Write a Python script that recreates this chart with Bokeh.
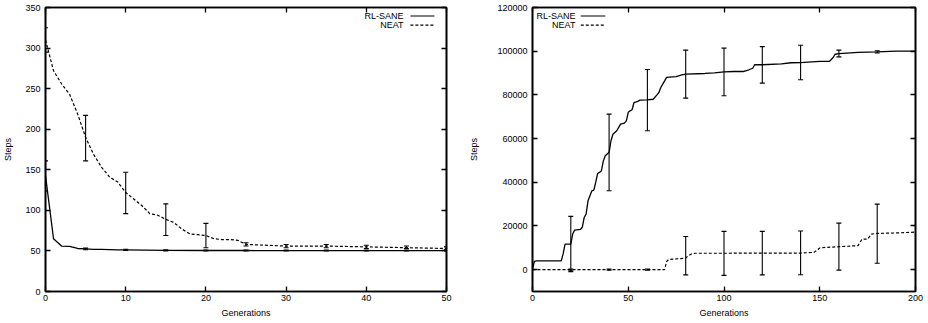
from bokeh.plotting import figure
from bokeh.layouts import row
from bokeh.models import (LinearAxis, FixedTicker, Range1d, Whisker, TeeHead,
                          ColumnDataSource, NumeralTickFormatter)
from bokeh.core.properties import value
from bokeh.embed import file_html
from bokeh.resources import INLINE

FONT = "Liberation Sans"

# ---------------- Left chart data ----------------
l_x_range = (0, 50)
l_y_range = (0, 350)
l_x_ticks = [0, 10, 20, 30, 40, 50]
l_y_ticks = [0, 50, 100, 150, 200, 250, 300, 350]

l_neat_gen = [0, 1, 2, 3, 4, 5, 6, 7, 8, 9, 10, 11, 12, 13, 14, 15, 16, 17, 18, 19,
              20, 21, 22, 23, 24, 25, 30, 35, 40, 45, 50]
l_neat_steps = [310, 272, 256, 243, 219, 190, 169, 153, 141, 135, 122, 114, 106, 96, 94,
                89, 85, 77, 71, 70, 69, 65, 64, 64, 63, 58, 56, 56, 55, 54, 53]
l_neat_err_gen = [0, 5, 10, 15, 20, 25, 30, 35, 40, 45, 50]
l_neat_err_low = [295, 161, 96, 69, 54, 56, 54, 54, 53, 53, 51]
l_neat_err_high = [325, 217, 147, 108, 84, 60, 58, 58, 57, 56, 55]

l_rl_gen = [0, 1, 2, 3, 4, 5, 6, 7, 8, 9, 10, 15, 20, 25, 30, 35, 40, 45, 50]
l_rl_steps = [143, 65, 56, 55.5, 53, 52.5, 52, 51.8, 51.6, 51.4, 51.3, 50.7, 50.5, 50.5,
              50.4, 50.4, 50.3, 50.3, 50.3]
l_rl_err_gen = [0, 5, 10, 15, 20, 25, 30, 35, 40, 45, 50]
l_rl_err_low = [124, 51.5, 50.5, 50, 50, 50, 50, 50, 50, 50, 50]
l_rl_err_high = [161, 53.5, 52, 51.3, 51, 51, 51, 51, 51, 51, 51]

# ---------------- Right chart data ----------------
r_x_range = (0, 200)
r_y_range = (-10000, 120000)
r_x_ticks = [0, 50, 100, 150, 200]
r_y_ticks = [0, 20000, 40000, 60000, 80000, 100000, 120000]

r_rl_gen = [0, 1, 2, 15, 16, 17, 20, 21, 22, 25, 26, 27, 28, 29, 30, 31, 32, 33, 34, 35,
            36, 37, 38, 40, 41, 42, 43, 44, 45, 46, 48, 49, 50, 51, 52, 53, 55, 56, 60,
            63, 65, 66, 67, 68, 69, 70, 75, 78, 80, 90, 95, 100, 105, 110, 113, 115, 116,
            120, 130, 135, 140, 150, 155, 157, 158, 160, 170, 180, 190, 200]
r_rl_steps = [300, 3800, 4000, 4000, 7200, 11700, 11700, 16300, 18100, 18400, 19400,
              23900, 25500, 31500, 33800, 36100, 36400, 39900, 44000, 44500, 45300, 49800,
              52100, 53700, 59000, 62000, 62800, 63600, 65100, 66600, 67100, 68100, 72000,
              72700, 73200, 76500, 77000, 77600, 77700, 78000, 80000, 81100, 83400, 84900,
              86400, 88000, 88400, 89200, 89500, 89800, 90100, 90500, 90700, 90700, 91500,
              92200, 93800, 93800, 94200, 94700, 94800, 95300, 95300, 97100, 98600, 98900,
              99500, 99700, 100000, 100000]
r_rl_err_gen = [20, 40, 60, 80, 100, 120, 140, 160, 180]
r_rl_err_low = [-900, 36100, 63600, 78500, 79600, 85400, 86900, 97400, 99200]
r_rl_err_high = [24400, 71200, 91600, 100500, 101400, 102100, 102700, 100500, 100200]

r_neat_gen = [0, 20, 40, 60, 69, 70, 71, 75, 80, 81, 83, 85, 100, 120, 140, 147, 150,
              153, 160, 170, 172, 175, 177, 180, 190, 200]
r_neat_steps = [0, 0, 0, 0, 0, 3700, 4600, 4900, 5300, 6100, 7200, 7500, 7500, 7600,
                7600, 7900, 9900, 10200, 10500, 11000, 13900, 14000, 16300, 16600, 16800,
                17200]
r_neat_err_gen = [20, 40, 60, 80, 100, 120, 140, 160, 180]
r_neat_err_low = [-300, -300, -300, -2400, -2600, -2400, -2300, -200, 2900]
r_neat_err_high = [300, 300, 300, 15200, 17500, 17500, 17700, 21300, 30000]

series_labels = ["RL-SANE", "NEAT"]
x_label = "Generations"
y_label = "Steps"

FRAME_W = 1.6


def make_fig(xr, yr, xt, yt, bl, br, ylab_standoff):
    p = figure(width=464, height=320, x_range=Range1d(*xr), y_range=Range1d(*yr),
               output_backend="svg", toolbar_location=None,
               min_border_left=bl, min_border_right=br, min_border_top=7,
               min_border_bottom=29)
    p.grid.visible = False
    p.outline_line_color = "black"
    p.outline_line_width = FRAME_W
    p.background_fill_color = "white"
    p.border_fill_color = "white"
    p.xaxis.ticker = FixedTicker(ticks=xt)
    p.yaxis.ticker = FixedTicker(ticks=yt)
    p.xaxis.axis_label = x_label
    p.yaxis.axis_label = y_label
    for ax in (p.xaxis[0], p.yaxis[0]):
        ax.major_tick_in = 5
        ax.major_tick_out = 0
        ax.minor_tick_in = 0
        ax.minor_tick_out = 0
        ax.axis_line_color = "black"
        ax.axis_line_width = FRAME_W
        ax.major_tick_line_color = "black"
        ax.major_tick_line_width = 1.3
        ax.major_label_text_font = FONT
        ax.major_label_text_font_size = "9px"
        ax.major_label_text_color = "black"
        ax.axis_label_text_font = FONT
        ax.axis_label_text_font_size = "9px"
        ax.axis_label_text_font_style = "normal"
        ax.axis_label_text_color = "black"
    p.xaxis.major_label_standoff = 3
    p.xaxis.axis_label_standoff = 4
    p.yaxis.major_label_standoff = 5
    p.yaxis.axis_label_standoff = ylab_standoff
    # mirrored ticks (no labels)
    for loc, ticks in (("above", xt), ("right", yt)):
        ax = LinearAxis(ticker=FixedTicker(ticks=ticks))
        ax.major_tick_in = 5
        ax.major_tick_out = 0
        ax.minor_tick_in = 0
        ax.minor_tick_out = 0
        ax.major_label_overrides = {t: "" for t in ticks}
        ax.major_label_standoff = 0
        ax.axis_line_color = "black"
        ax.axis_line_width = FRAME_W
        ax.major_tick_line_color = "black"
        ax.major_tick_line_width = 1.3
        p.add_layout(ax, loc)
    return p


def whiskers(p, xs, lo, hi):
    src = ColumnDataSource(dict(x=xs, lo=lo, hi=hi))
    w = Whisker(source=src, base="x", lower="lo", upper="hi", line_color="black",
                line_width=1.1,
                upper_head=TeeHead(size=5, line_color="black", line_width=1.1),
                lower_head=TeeHead(size=5, line_color="black", line_width=1.1))
    p.add_layout(w)


def key(p, xr, yr, fx_text, fx0, fx1, fy, label, dash):
    x_text = xr[0] + fx_text * (xr[1] - xr[0])
    xa = xr[0] + fx0 * (xr[1] - xr[0])
    xb = xr[0] + fx1 * (xr[1] - xr[0])
    y = yr[1] - fy * (yr[1] - yr[0])
    p.text(x=[x_text], y=[y], text=[label], text_font=value(FONT), text_font_size="9px",
           text_align="right", text_baseline="middle", text_color="black")
    p.segment(x0=[xa], y0=[y], x1=[xb], y1=[y], line_color="black", line_width=1.2,
              line_dash=dash)


DASH = "3 2"

# Left
p1 = make_fig(l_x_range, l_y_range, l_x_ticks, l_y_ticks, 45, 18, 9)
p1.line(l_rl_gen, l_rl_steps, line_color="black", line_width=1.3)
p1.line(l_neat_gen, l_neat_steps, line_color="black", line_width=1.2, line_dash=DASH)
whiskers(p1, l_rl_err_gen, l_rl_err_low, l_rl_err_high)
whiskers(p1, l_neat_err_gen, l_neat_err_low, l_neat_err_high)
key(p1, l_x_range, l_y_range, 0.893, 0.910, 0.970, 0.030, series_labels[0], "solid")
key(p1, l_x_range, l_y_range, 0.893, 0.910, 0.970, 0.062, series_labels[1], DASH)

# Right
p2 = make_fig(r_x_range, r_y_range, r_x_ticks, r_y_ticks, 68, 13, 15)
p2.yaxis[0].formatter = NumeralTickFormatter(format="0")
p2.line(r_rl_gen, r_rl_steps, line_color="black", line_width=1.3)
p2.line(r_neat_gen, r_neat_steps, line_color="black", line_width=1.2, line_dash=DASH)
whiskers(p2, r_rl_err_gen, r_rl_err_low, r_rl_err_high)
whiskers(p2, r_neat_err_gen, r_neat_err_low, r_neat_err_high)
key(p2, r_x_range, r_y_range, 0.112, 0.126, 0.19, 0.030, series_labels[0], "solid")
key(p2, r_x_range, r_y_range, 0.112, 0.126, 0.19, 0.062, series_labels[1], DASH)

layout = row(p1, p2)
open("out.html", "w").write(file_html(layout, INLINE))
